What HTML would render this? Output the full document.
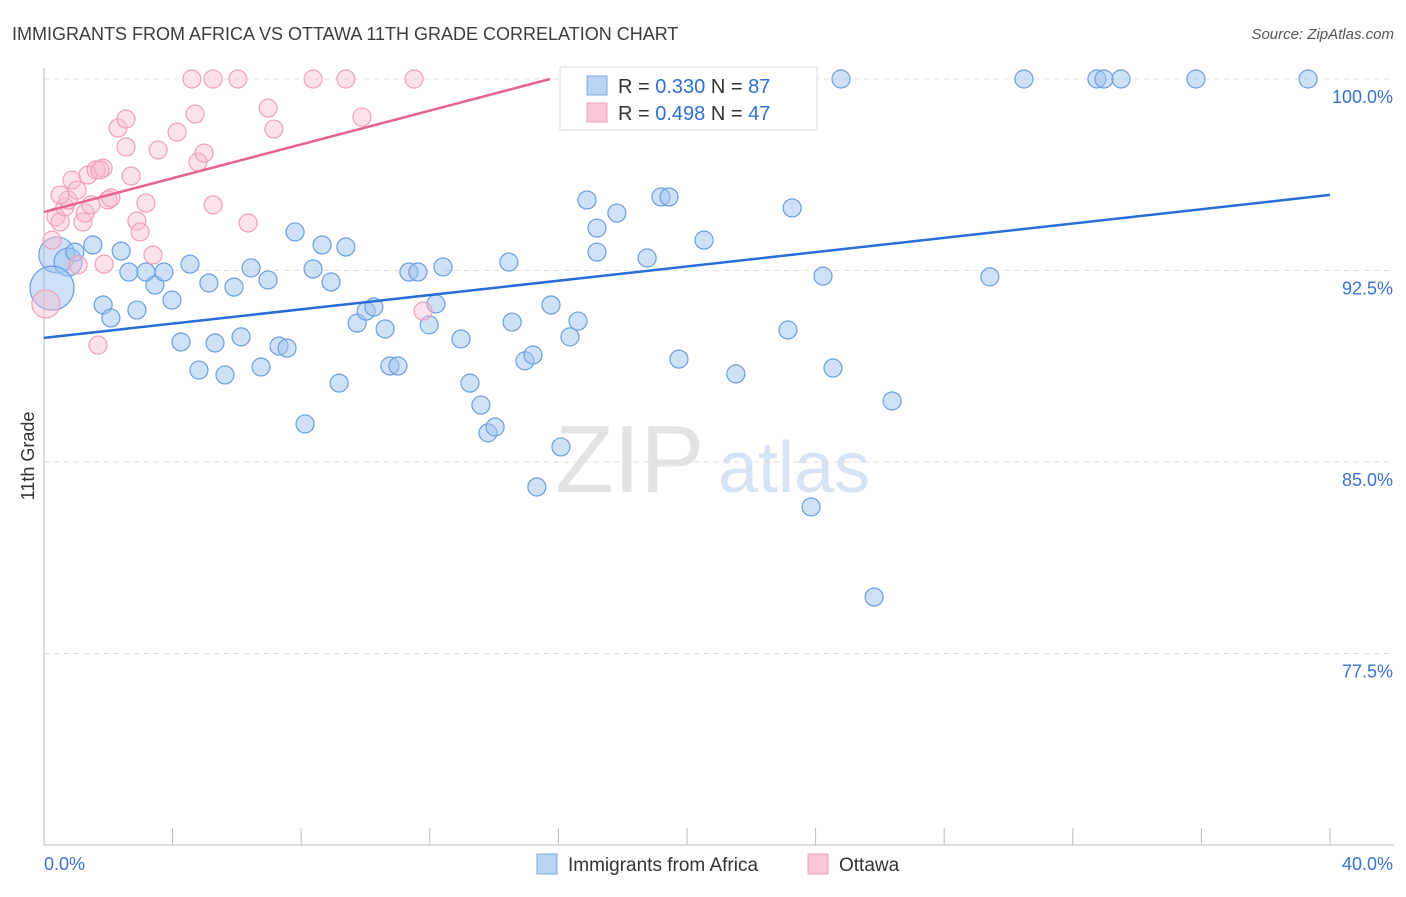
<!DOCTYPE html>
<html><head><meta charset="utf-8"><style>
body{margin:0;background:#fff;font-family:"Liberation Sans",sans-serif}
svg text{font-family:"Liberation Sans",sans-serif}
</style></head><body>
<svg id="c" width="1406" height="892" xmlns="http://www.w3.org/2000/svg">
<text x="12" y="40" font-size="18" fill="#3c3c3c">IMMIGRANTS FROM AFRICA VS OTTAWA 11TH GRADE CORRELATION CHART</text>
<text x="1394" y="39" font-size="15" fill="#555" text-anchor="end" font-style="italic">Source: ZipAtlas.com</text>
<text x="555" y="492" font-size="96" fill="#e3e3e3" font-family="Liberation Serif">ZIP</text>
<text x="718" y="492" font-size="72" fill="#d6e4f5">atlas</text>
<g id="grid"></g><g id="axes"></g><g id="pts"></g><g id="lines"></g>
<text transform="translate(34,456) rotate(-90)" font-size="18" fill="#333" text-anchor="middle">11th Grade</text>
<g>
<rect x="560" y="67" width="257" height="63" fill="#fff" stroke="#ddd"/>
<rect x="587" y="76" width="20" height="19" fill="#b9d3f3" stroke="#7fa9e0"/>
<text x="618" y="93" font-size="20" fill="#333">R = <tspan fill="#2f6fd0">0.330</tspan>   N = <tspan fill="#2f6fd0">87</tspan></text>
<rect x="587" y="103" width="20" height="19" fill="#f9c8d6" stroke="#eea0b6"/>
<text x="618" y="120" font-size="20" fill="#333">R = <tspan fill="#2f6fd0">0.498</tspan>   N = <tspan fill="#2f6fd0">47</tspan></text>
</g>
<g>
<rect x="537" y="854" width="20" height="20" fill="#b9d3f3" stroke="#7fa9e0"/>
<text x="568" y="871" font-size="19" fill="#333">Immigrants from Africa</text>
<rect x="808" y="854" width="20" height="20" fill="#f9c8d6" stroke="#eea0b6"/>
<text x="839" y="871" font-size="19" fill="#333">Ottawa</text>
</g>
</svg>
<script>
const blueX=[0.40,0.75,0.25,0.96,1.52,1.84,2.08,2.40,2.64,2.89,3.17,3.45,3.73,3.98,4.26,4.54,4.82,5.13,5.32,5.63,5.91,6.13,6.44,6.75,6.97,7.31,7.56,7.81,8.12,8.37,8.65,8.93,9.18,9.39,9.74,10.02,10.26,10.61,10.76,11.01,11.35,11.63,11.98,12.19,12.41,12.97,13.25,13.59,13.81,14.03,14.46,14.56,14.96,15.21,15.33,15.77,16.08,16.36,16.61,16.89,17.20,17.20,17.82,18.76,19.19,19.44,19.75,20.09,20.53,21.52,22.08,23.14,23.27,24.23,24.54,24.79,23.86,25.82,26.38,29.42,30.48,32.75,32.97,33.50,35.83,39.32];
const blueY=[93.11,92.83,91.81,93.22,93.50,91.15,90.64,93.26,92.44,90.95,92.44,91.93,92.44,91.34,89.70,92.75,88.60,92.01,89.66,88.41,91.85,89.90,92.60,88.72,92.13,89.54,89.46,94.01,86.49,92.56,93.50,92.05,88.09,93.42,90.44,90.91,91.07,90.21,88.76,88.76,92.44,92.44,90.37,91.19,92.64,89.82,88.09,87.23,86.14,86.37,92.83,90.48,88.96,89.19,84.02,91.15,85.59,89.90,90.52,95.26,94.16,93.22,94.75,92.99,95.38,95.38,89.03,100,93.69,88.45,100,90.17,94.95,92.28,88.68,100,83.24,79.71,87.39,92.25,100,100,100,100,100,100];
const blueR=[18,14,22];
const pinkX=[0.06,0.25,0.37,0.50,0.65,0.75,0.87,1.03,1.21,1.28,1.37,1.46,1.62,1.68,1.84,1.87,1.99,2.08,2.30,2.55,2.55,2.71,2.89,2.99,3.17,3.39,3.55,4.14,4.60,4.70,4.79,4.98,5.26,5.26,6.03,6.35,6.97,7.15,8.37,9.39,9.89,11.51,11.79,0.50,1.06,1.74];
const pinkY=[91.19,93.69,94.60,94.40,94.99,95.26,96.04,95.65,94.40,94.75,96.24,95.07,96.44,89.58,96.51,92.75,95.26,95.34,98.08,98.43,97.34,96.20,94.44,94.01,95.14,93.11,97.22,97.92,100,98.63,96.75,97.10,100,95.07,100,94.36,98.86,98.04,100,100,98.51,100,90.91,95.46,92.72,96.44];
const pinkR=[14];
const yTicks=[100,92.5,85,77.5];
const yTickLabels=["100.0%","92.5%","85.0%","77.5%"];
const blueTrend=[89.86,0.14];
const pinkTrend=[94.79,0.331];
const NS="http://www.w3.org/2000/svg";
const sx=v=>44+v/40*1286, sy=v=>79+(100-v)/7.5*191.5;
function mk(p,t,a){const e=document.createElementNS(NS,t);for(const k in a)e.setAttribute(k,a[k]);document.getElementById(p).appendChild(e);return e;}
yTicks.forEach((t,i)=>{
 const g=mk('grid','line',{x1:44,x2:1394,y1:sy(t),y2:sy(t),stroke:'#dedede','stroke-dasharray':'5,5'});
 
 
 const l=mk('axes','text',{x:1393,y:sy(t)+24,'font-size':18,fill:'#3a72cf','text-anchor':'end'});
 l.textContent=yTickLabels[i];
 
 
});
let ax=mk('axes','line',{x1:44,x2:44,y1:68,y2:845,stroke:'#bbb'});


ax=mk('axes','line',{x1:44,x2:1394,y1:845,y2:845,stroke:'#bbb'});


for(let i=0;i<=10;i++){const t=mk('axes','line',{x1:sx(i*4),x2:sx(i*4),y1:828,y2:845,stroke:'#bbb'});
 
 }
let xl=mk('axes','text',{x:44,y:870,'font-size':18,fill:'#3a72cf'});xl.textContent='0.0%';


xl=mk('axes','text',{x:1393,y:870,'font-size':18,fill:'#3a72cf','text-anchor':'end'});xl.textContent='40.0%';


blueX.forEach((x,i)=>{const c=mk('pts','circle',{cx:sx(x),cy:sy(blueY[i]),r:blueR[i]||9,fill:'rgba(160,196,240,0.5)',stroke:'#6c9ee0','stroke-width':1.2});
 
 });
pinkX.forEach((x,i)=>{const c=mk('pts','circle',{cx:sx(x),cy:sy(pinkY[i]),r:pinkR[i]||9,fill:'rgba(248,190,208,0.45)',stroke:'#f0a0b8','stroke-width':1.2});
 
 });
let b=mk('lines','line',{x1:sx(0),y1:sy(blueTrend[0]),x2:sx(40),y2:sy(blueTrend[0]+40*blueTrend[1]),stroke:'#2a6dd6','stroke-width':2.5});


const pe=Math.min(40,(100-pinkTrend[0])/pinkTrend[1]);
b=mk('lines','line',{x1:sx(0),y1:sy(pinkTrend[0]),x2:sx(pe),y2:sy(pinkTrend[0]+pe*pinkTrend[1]),stroke:'#e8638e','stroke-width':2.5});


</script>
</body></html>
